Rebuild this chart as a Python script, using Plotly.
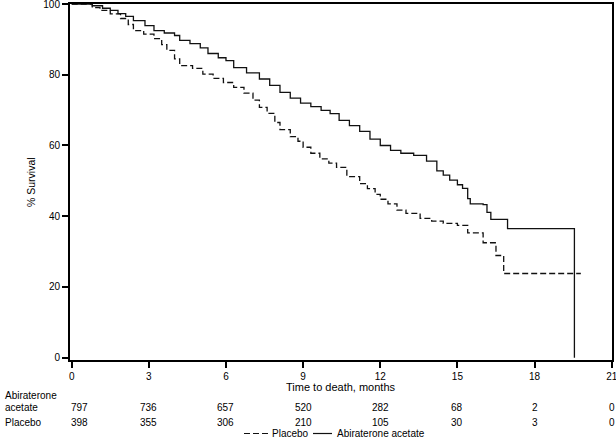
import plotly.graph_objects as go

# Kaplan-Meier curves (months, % survival)
abi_time = [0, 0.5, 0.8, 1.2, 1.5, 1.8, 2.1, 2.4, 2.85, 3.2, 3.6, 4.0, 4.2, 4.6, 5.0, 5.3,
            5.7, 6.0, 6.3, 6.8, 7.3, 7.7, 8.1, 8.5, 8.9, 9.3, 9.7, 10.05, 10.4, 10.8, 11.2,
            11.6, 12.0, 12.4, 12.8, 13.3, 13.8, 14.2, 14.45, 14.7, 15.0, 15.2, 15.4, 15.5,
            16.0, 16.15, 16.3, 16.95, 19.55, 19.55]
abi_surv = [100, 100, 99.5, 98.8, 98.2, 97.3, 96.5, 95.3, 93.9, 92.5, 91.8, 91.1, 89.7, 88.8,
            87.6, 86.0, 84.8, 84.0, 82.0, 80.5, 78.8, 77.0, 75.0, 73.4, 72.0, 71.0, 69.9, 69.0,
            67.1, 65.6, 64.0, 61.8, 60.0, 58.6, 57.8, 57.2, 55.6, 52.8, 51.6, 50.2, 48.9, 47.9,
            45.0, 43.5, 43.3, 41.1, 39.1, 36.5, 36.5, 0]

pbo_time = [0, 0.45, 0.8, 1.1, 1.5, 1.9, 2.2, 2.4, 2.8, 3.2, 3.5, 3.7, 4.0, 4.2, 4.7, 5.1,
            5.5, 5.9, 6.3, 6.7, 7.05, 7.3, 7.6, 7.9, 8.1, 8.5, 8.8, 9.0, 9.3, 9.65, 10.0, 10.3,
            10.7, 11.2, 11.5, 11.8, 12.0, 12.3, 12.65, 13.0, 13.55, 14.0, 14.45, 15.0, 15.4,
            16.0, 16.5, 16.8, 19.8]
pbo_surv = [100, 100, 99.0, 98.2, 97.2, 95.9, 94.2, 92.5, 91.5, 90.2, 88.5, 86.9, 84.5, 82.6,
            81.8, 80.2, 79.0, 77.8, 76.4, 74.8, 72.8, 70.8, 69.1, 66.5, 64.5, 62.5, 61.2, 59.5,
            57.8, 56.2, 55.0, 53.8, 51.2, 49.2, 47.8, 46.2, 44.8, 43.5, 41.7, 40.8, 39.4, 38.6,
            38.0, 37.4, 35.3, 32.5, 28.9, 23.8, 23.8]

risk_times = [0, 3, 6, 9, 12, 15, 18, 21]
abi_risk = [797, 736, 657, 520, 282, 68, 2, 0]
pbo_risk = [398, 355, 306, 210, 105, 30, 3, 0]

x_ticks = [0, 3, 6, 9, 12, 15, 18, 21]
y_ticks = [0, 20, 40, 60, 80, 100]

FONT = "Liberation Sans, Arial, sans-serif"
W, H = 616, 444
ML, MR, MT, MB = 70, 4, 4, 84
PW = W - ML - MR
PH = H - MT - MB


def px_x(p):
    return (p - ML) / PW


def px_y(p):
    return (H - MB - p) / PH


fig = go.Figure()
fig.add_trace(go.Scatter(x=pbo_time, y=pbo_surv, mode="lines", name="Placebo",
                         line=dict(shape="hv", color="#111", width=1.3, dash="6px,3px"),
                         showlegend=False, hoverinfo="skip"))
fig.add_trace(go.Scatter(x=abi_time, y=abi_surv, mode="lines", name="Abiraterone acetate",
                         line=dict(shape="hv", color="#111", width=1.3),
                         showlegend=False, hoverinfo="skip"))

axis_common = dict(ticks="outside", ticklen=6, tickwidth=2, tickcolor="black", showline=True,
                   linewidth=2, linecolor="black", mirror=True, showgrid=False, zeroline=False,
                   tickfont=dict(size=10), automargin=False, ticklabeloverflow="allow")
fig.update_layout(
    width=W, height=H,
    margin=dict(l=ML, r=MR, t=MT, b=MB, pad=0, autoexpand=False),
    paper_bgcolor="white", plot_bgcolor="white",
    font=dict(family=FONT, size=10, color="black"),
    xaxis=dict(range=[-0.066, 21.012], tickvals=x_ticks, **axis_common),
    yaxis=dict(range=[-0.65, 100], tickvals=y_ticks, **axis_common),
)

ann = []
ann.append(dict(text="Time to death, months", xref="paper", yref="paper", x=0.5, y=px_y(387),
                xanchor="center", yanchor="middle", showarrow=False, font=dict(size=11)))
ann.append(dict(text="% Survival", xref="paper", yref="paper", x=px_x(31), y=0.5,
                xanchor="center", yanchor="middle", textangle=-90, showarrow=False,
                font=dict(size=10.5)))
for txt, yp in [("Abiraterone", 395), ("acetate", 408), ("Placebo", 422.5)]:
    ann.append(dict(text=txt, xref="paper", yref="paper", x=px_x(3), y=px_y(yp),
                    xanchor="left", yanchor="middle", showarrow=False, font=dict(size=10)))
for i, t in enumerate(risk_times):
    sh = 8 if i == 0 else 0
    ann.append(dict(text=str(abi_risk[i]), xref="x", yref="paper", x=t, y=px_y(408), xshift=sh,
                    xanchor="center", yanchor="middle", showarrow=False, font=dict(size=10)))
    ann.append(dict(text=str(pbo_risk[i]), xref="x", yref="paper", x=t, y=px_y(422.5), xshift=sh,
                    xanchor="center", yanchor="middle", showarrow=False, font=dict(size=10)))

# legend
ly = px_y(433.5)
ann.append(dict(text="Placebo", xref="paper", yref="paper", x=px_x(270), y=ly,
                xanchor="left", yanchor="middle", showarrow=False, font=dict(size=10)))
ann.append(dict(text="Abiraterone acetate", xref="paper", yref="paper", x=px_x(335), y=ly,
                xanchor="left", yanchor="middle", showarrow=False, font=dict(size=10)))
fig.update_layout(annotations=ann)

fig.add_shape(type="line", xref="paper", yref="paper", x0=px_x(244), x1=px_x(268), y0=ly, y1=ly,
              line=dict(color="#111", width=1.2, dash="6px,3px"))
fig.add_shape(type="line", xref="paper", yref="paper", x0=px_x(313), x1=px_x(332), y0=ly, y1=ly,
              line=dict(color="#111", width=1.2))

fig.write_html("out.html", config={"displayModeBar": False},
               post_script="document.body.style.margin='0';")
